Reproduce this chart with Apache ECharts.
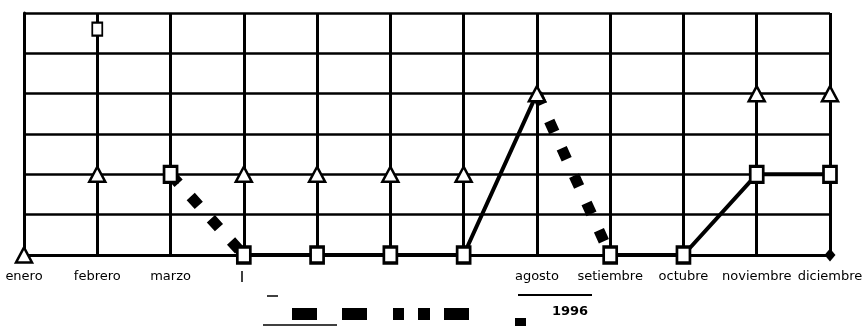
<!DOCTYPE html>
<html>
<head>
<meta charset="utf-8">
<script src="https://cdn.jsdelivr.net/npm/echarts@6/dist/echarts.min.js"></script>
<style>html,body{margin:0;padding:0;background:#fff}#c{width:866px;height:326px}</style>
</head>
<body>
<div id="c"></div>
<script>
// Categories (months) and the tick labels legible in the reference
const meses = ['enero','febrero','marzo','abril','mayo','junio','julio','agosto','setiembre','octubre','noviembre','diciembre'];
const etiquetas = ['enero','febrero','marzo','','','','','agosto','setiembre','octubre','noviembre','diciembre'];

// Open-triangle series
const triangulos = [0, 2, null, 2, 2, 2, 2, 4, null, null, 4, 4];
// Bracket (open square) series markers
const corchetes = [null, null, 2, 0, 0, 0, 0, null, 0, 0, 2, 2];
// Solid segments of the bracket series
const tramoSolido1 = [null, null, null, 0, 0, 0, 0, 4, null, null, null, null];
const tramoSolido2 = [null, null, null, null, null, null, null, null, 0, 0, 2, 2];
// Dotted (square-dash) segments
const tramoPunteado = [null, null, 2, 0, null, null, null, 4, 0, null, null, null];
// Isolated points
const puntoAlto = [null, 5.6, null, null, null, null, null, null, null, null, null, null];
const puntoFinal = [null, null, null, null, null, null, null, null, null, null, null, 0];

const chart = echarts.init(document.getElementById('c'), null, {renderer: 'canvas'});
const black = '#000';
chart.setOption({
  animation: false,
  backgroundColor: '#fff',
  grid: {left: 24, right: 36, top: 13, bottom: 71, containLabel: false},
  xAxis: {
    type: 'category',
    data: meses,
    boundaryGap: false,
    axisLine: {lineStyle: {color: black, width: 3}},
    axisTick: {show: false},
    splitLine: {show: true, lineStyle: {color: black, width: 3}},
    axisLabel: {
      margin: 15, color: black, fontSize: 13, fontFamily: 'DejaVu Sans', interval: 0,
      formatter: (v, i) => etiquetas[i]
    }
  },
  yAxis: {
    type: 'value', min: 0, max: 6, interval: 1,
    axisLine: {show: true, lineStyle: {color: black, width: 3}},
    axisTick: {show: false},
    axisLabel: {show: false},
    splitLine: {show: true, lineStyle: {color: black, width: 2.5}}
  },
  series: [
    {type: 'line', data: tramoSolido1, symbol: 'none', connectNulls: false,
     lineStyle: {color: black, width: 4}, z: 3},
    {type: 'line', data: tramoSolido2, symbol: 'none', connectNulls: false,
     lineStyle: {color: black, width: 4}, z: 3},
    {type: 'line', data: tramoPunteado, symbol: 'none', connectNulls: false,
     lineStyle: {color: black, width: 11, type: [12, 18], cap: 'butt'}, z: 3},
    {type: 'line', data: corchetes, symbol: 'rect', symbolSize: [13, 16],
     lineStyle: {opacity: 0}, itemStyle: {color: '#fff', borderColor: black, borderWidth: 3}, z: 4},
    {type: 'line', data: triangulos, symbol: 'triangle', symbolSize: [16, 15],
     lineStyle: {opacity: 0}, itemStyle: {color: '#fff', borderColor: black, borderWidth: 2.5}, z: 5},
    {type: 'line', data: puntoAlto, symbol: 'rect', symbolSize: [10, 13],
     lineStyle: {opacity: 0}, itemStyle: {color: '#fff', borderColor: black, borderWidth: 2}, z: 5},
    {type: 'line', data: puntoFinal, symbol: 'diamond', symbolSize: [11, 13],
     lineStyle: {opacity: 0}, itemStyle: {color: black}, z: 5}
  ],
  graphic: [
    {type: 'rect', shape: {x: 292, y: 308, width: 25, height: 12}, style: {fill: black}},
    {type: 'rect', shape: {x: 342, y: 308, width: 25, height: 12}, style: {fill: black}},
    {type: 'rect', shape: {x: 393, y: 308, width: 11, height: 12}, style: {fill: black}},
    {type: 'rect', shape: {x: 418, y: 308, width: 12, height: 12}, style: {fill: black}},
    {type: 'rect', shape: {x: 444, y: 308, width: 25, height: 12}, style: {fill: black}},
    {type: 'line', shape: {x1: 263, y1: 325, x2: 337, y2: 325}, style: {stroke: black, lineWidth: 1.5}},
    {type: 'line', shape: {x1: 267, y1: 296, x2: 278, y2: 296}, style: {stroke: black, lineWidth: 1.5}},
    {type: 'line', shape: {x1: 242, y1: 271, x2: 242, y2: 282}, style: {stroke: black, lineWidth: 1.5}},
    {type: 'line', shape: {x1: 518, y1: 295, x2: 592, y2: 295}, style: {stroke: black, lineWidth: 2}},
    {type: 'rect', shape: {x: 515, y: 318, width: 11, height: 8}, style: {fill: black}},
    {type: 'text', x: 570, y: 312, style: {text: '1996', fill: black, font: 'bold 13px "DejaVu Sans"', align: 'center', verticalAlign: 'middle'}}
  ]
});
</script>
</body>
</html>
